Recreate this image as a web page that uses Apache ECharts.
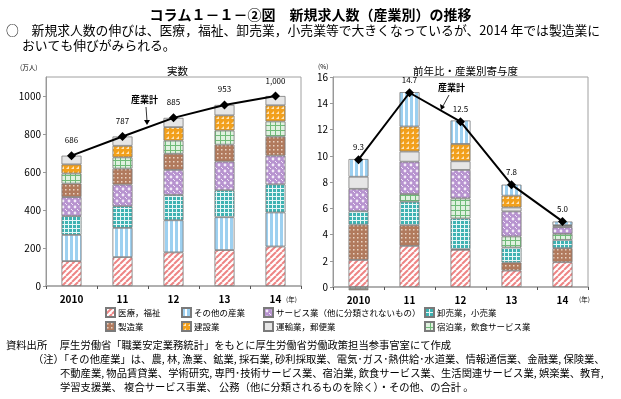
<!DOCTYPE html>
<html>
<head>
<meta charset="utf-8">
<script src="https://cdn.jsdelivr.net/npm/echarts@6/dist/echarts.min.js"></script>
<style>
  html, body { margin: 0; padding: 0; background: #fff; }
  #chart { width: 621px; height: 399px; }
</style>
</head>
<body>
<div id="chart"></div>
<script>
// categories
const years = ['2010', '11', '12', '13', '14'];

// 実数 (万人), stacked bottom -> top
const realMedical = [131, 152, 177, 189, 208];
const realOther = [138, 154, 169, 173, 179];
const realRetail = [99, 114, 133, 142, 148];
const realService = [100, 114, 132, 151, 151];
const realMaker = [71, 84, 85, 89, 100];
const realHotel = [53, 59, 69, 74, 80];
const realBuild = [48, 61, 71, 80, 85];
const realTransport = [46, 49, 49, 55, 49];
const realTotal = [686, 787, 885, 953, 1000];

// 前年比・産業別寄与度 (%), stacked bottom -> top
const ratioMedical = [2.06, 3.13, 2.83, 1.25, 1.89];
const ratioMaker = [2.69, 1.58, 0.05, 0.61, 1.07];
const ratioRetail = [1.02, 1.79, 2.34, 1.15, 0.63];
const ratioHotel = [-0.15, 0.58, 1.53, 0.84, 0.46];
const ratioService = [1.71, 2.47, 2.17, 1.91, 0.51];
const ratioTransport = [0.92, 0.77, 0.66, 0.30, 0.10];
const ratioBuild = [-0.1, 1.91, 1.32, 0.90, 0.05];
const ratioOther = [1.35, 2.62, 1.79, 0.84, 0.28];
const ratioLine = [9.7, 14.8, 12.6, 7.8, 5.0];
const ratioLabels = ['9.3', '14.7', '12.5', '7.8', '5.0'];

const FONT = '"Noto Sans CJK JP", "Noto Sans", sans-serif';

function pattern(size, bg, draw) {
  const c = document.createElement('canvas');
  c.width = c.height = size;
  const g = c.getContext('2d');
  g.fillStyle = bg;
  g.fillRect(0, 0, size, size);
  if (draw) draw(g);
  return { image: c, repeat: 'repeat' };
}

const fills = {
  '医療，福祉': pattern(6, '#ffffff', g => {
    g.strokeStyle = '#ee8585'; g.lineWidth = 2;
    [-6, 0, 6].forEach(x => {
      g.beginPath(); g.moveTo(x, 6); g.lineTo(x + 6, 0); g.stroke();
    });
  }),
  'その他の産業': pattern(5, '#ffffff', g => {
    g.fillStyle = '#9dd0f0'; g.fillRect(0, 0, 3, 5);
  }),
  '卸売業，小売業': pattern(4, '#3fb2b2', g => {
    g.fillStyle = '#e8f7f7'; g.fillRect(0, 0, 4, 1); g.fillRect(0, 0, 1, 4);
  }),
  'サービス業（他に分類されないもの）': pattern(6, '#b793cf', g => {
    g.fillStyle = '#f3ecf8';
    g.beginPath(); g.arc(3, 3, 1.4, 0, Math.PI * 2); g.fill();
    g.fillRect(0, 0, 1, 1); g.fillRect(5, 5, 1, 1);
  }),
  '製造業': pattern(4, '#b17a5d', g => {
    g.fillStyle = '#ead3c4'; g.fillRect(1, 1, 1.5, 1.5);
  }),
  '宿泊業，飲食サービス業': pattern(5, '#dff1df', g => {
    g.fillStyle = '#6fbb78'; g.fillRect(0, 0, 5, 1); g.fillRect(0, 0, 1, 5);
  }),
  '建設業': pattern(5, '#f2a01c', g => {
    g.fillStyle = '#fde6bd';
    g.beginPath(); g.moveTo(1, 4); g.lineTo(4, 4); g.lineTo(4, 1); g.closePath(); g.fill();
  }),
  '運輸業，郵便業': '#e6e6e6'
};

function barSeries(name, data, axis) {
  return {
    name: name,
    type: 'bar',
    stack: 'total' + axis,
    xAxisIndex: axis,
    yAxisIndex: axis,
    barWidth: 20,
    clip: false,
    data: data,
    itemStyle: { color: fills[name], borderColor: '#7a7a7a', borderWidth: 0.8 },
    emphasis: { disabled: true },
    animation: false
  };
}

const leftBars = [
  ['医療，福祉', realMedical], ['その他の産業', realOther], ['卸売業，小売業', realRetail],
  ['サービス業（他に分類されないもの）', realService], ['製造業', realMaker],
  ['宿泊業，飲食サービス業', realHotel], ['建設業', realBuild], ['運輸業，郵便業', realTransport]
];
const rightBars = [
  ['医療，福祉', ratioMedical], ['製造業', ratioMaker], ['卸売業，小売業', ratioRetail],
  ['宿泊業，飲食サービス業', ratioHotel], ['サービス業（他に分類されないもの）', ratioService],
  ['運輸業，郵便業', ratioTransport], ['建設業', ratioBuild], ['その他の産業', ratioOther]
];

const lineStyleCommon = {
  type: 'line',
  symbol: 'diamond',
  symbolSize: 9,
  lineStyle: { color: '#000', width: 2 },
  itemStyle: { color: '#000' },
  z: 5,
  animation: false
};

function axisX(idx) {
  return {
    type: 'category', gridIndex: idx, data: years,
    axisLine: { lineStyle: { color: '#b0b0b0', width: 2 } },
    axisTick: { show: true, inside: false, length: 3, lineStyle: { color: '#555' } },
    axisLabel: { color: '#000', fontSize: 10, fontWeight: 'bold', fontFamily: FONT, margin: 8 }
  };
}

function legendCol(left, items) {
  return {
    orient: 'vertical', left: left, top: 302, itemGap: 3,
    itemWidth: 9, itemHeight: 9, icon: 'rect',
    selectedMode: false,
    textStyle: { fontSize: 8.5, color: '#000', fontFamily: FONT, padding: [0, 0, 0, -2] },
    data: items
  };
}

const chart = echarts.init(document.getElementById('chart'), null, { renderer: 'canvas' });
chart.setOption({
  backgroundColor: '#fff',
  textStyle: { fontFamily: FONT },
  title: [
    { text: 'コラム１－１－②図　新規求人数（産業別）の推移', left: 'center', top: 3,
      textStyle: { fontSize: 14, fontWeight: 'bold', color: '#000', fontFamily: FONT } },
    { text: '実数', left: 162, top: 61, textStyle: { fontSize: 10.5, fontWeight: 'normal', color: '#000', fontFamily: FONT } },
    { text: '前年比・産業別寄与度', left: 408, top: 61, textStyle: { fontSize: 10.5, fontWeight: 'normal', color: '#000', fontFamily: FONT } }
  ],
  legend: [
    legendCol(100, ['医療，福祉', '製造業']),
    legendCol(176, ['その他の産業', '建設業']),
    legendCol(258, ['サービス業（他に分類されないもの）', '運輸業，郵便業']),
    legendCol(419, ['卸売業，小売業', '宿泊業，飲食サービス業'])
  ],
  grid: [
    { left: 46, top: 77, width: 255, height: 209, show: true, borderColor: '#a0a0a0', borderWidth: 1, backgroundColor: 'transparent' },
    { left: 333, top: 77, width: 255, height: 210, show: true, borderColor: '#a0a0a0', borderWidth: 1, backgroundColor: 'transparent' }
  ],
  xAxis: [axisX(0), axisX(1)],
  yAxis: [
    { type: 'value', gridIndex: 0, min: 0, max: 1100, interval: 200,
      axisLine: { show: true, lineStyle: { color: '#999' } },
      axisTick: { show: true, length: 3, lineStyle: { color: '#999' } },
      splitLine: { show: false },
      axisLabel: { color: '#000', fontSize: 10, fontFamily: FONT, margin: 5, showMaxLabel: false,
        formatter: v => String(v) } },
    { type: 'value', gridIndex: 1, min: 0, max: 16, interval: 2,
      axisLine: { show: true, lineStyle: { color: '#999' } },
      axisTick: { show: true, length: 3, lineStyle: { color: '#999' } },
      splitLine: { show: false },
      axisLabel: { color: '#000', fontSize: 10, fontFamily: FONT, margin: 5 } }
  ],
  series: [
    ...leftBars.map(([n, d]) => barSeries(n, d, 0)),
    ...rightBars.map(([n, d]) => barSeries(n, d, 1)),
    Object.assign({}, lineStyleCommon, {
      name: '産業計', xAxisIndex: 0, yAxisIndex: 0, data: realTotal,
      label: { show: true, position: 'top', distance: 7, fontSize: 8, color: '#000', fontFamily: FONT,
        formatter: p => p.value.toLocaleString('en-US') }
    }),
    Object.assign({}, lineStyleCommon, {
      name: '産業計', xAxisIndex: 1, yAxisIndex: 1, data: ratioLine,
      label: { show: true, position: 'top', distance: 4, fontSize: 8, color: '#000', fontFamily: FONT,
        formatter: p => ratioLabels[p.dataIndex] }
    })
  ],
  graphic: [
    { type: 'text', left: 6, top: 24, style: { text: '○　新規求人数の伸びは、医療，福祉、卸売業，小売業等で大きくなっているが、2014 年では製造業に', fill: '#000', font: '12.8px ' + FONT } },
    { type: 'text', left: 22, top: 39, style: { text: 'おいても伸びがみられる。', fill: '#000', font: '12.8px ' + FONT } },
    { type: 'text', left: 20, top: 64, style: { text: '(万人)', fill: '#000', font: '6.5px ' + FONT } },
    { type: 'text', left: 318, top: 63, style: { text: '(%)', fill: '#000', font: '6.5px ' + FONT } },
    { type: 'text', left: 286, top: 296, style: { text: '(年)', fill: '#000', font: '6.5px ' + FONT } },
    { type: 'text', left: 579, top: 296, style: { text: '(年)', fill: '#000', font: '6.5px ' + FONT } },
    // 産業計 annotations
    { type: 'text', left: 131, top: 95, style: { text: '産業計', fill: '#000', font: 'bold 9px ' + FONT } },
    { type: 'line', shape: { x1: 146, y1: 107, x2: 147, y2: 121 }, style: { stroke: '#000', lineWidth: 0.8 } },
    { type: 'polygon', shape: { points: [[144, 120], [150, 120], [147, 125]] }, style: { fill: '#000' } },
    { type: 'text', left: 438, top: 83, style: { text: '産業計', fill: '#000', font: 'bold 9px ' + FONT } },
    { type: 'line', shape: { x1: 449, y1: 95, x2: 443, y2: 106 }, style: { stroke: '#000', lineWidth: 0.8 } },
    { type: 'polygon', shape: { points: [[440, 104], [445, 107], [441, 110]] }, style: { fill: '#000' } },
    // source & notes
    { type: 'text', left: 6, top: 340, style: { text: '資料出所　 厚生労働省「職業安定業務統計」をもとに厚生労働省労働政策担当参事官室にて作成', fill: '#000', font: '10.3px ' + FONT } },
    { type: 'text', left: 33, top: 354, style: { text: '（注）「その他産業」は、農, 林, 漁業、鉱業, 採石業, 砂利採取業、電気･ガス･熱供給･水道業、情報通信業、金融業, 保険業、', fill: '#000', font: '10.3px ' + FONT } },
    { type: 'text', left: 60, top: 368, style: { text: '不動産業, 物品賃貸業、学術研究, 専門･技術サービス業、宿泊業, 飲食サービス業、生活関連サービス業, 娯楽業、教育,', fill: '#000', font: '10.3px ' + FONT } },
    { type: 'text', left: 60, top: 382, style: { text: '学習支援業、 複合サービス事業、 公務（他に分類されるものを除く）・その他、の合計 。', fill: '#000', font: '10.3px ' + FONT } }
  ]
});
</script>
</body>
</html>
